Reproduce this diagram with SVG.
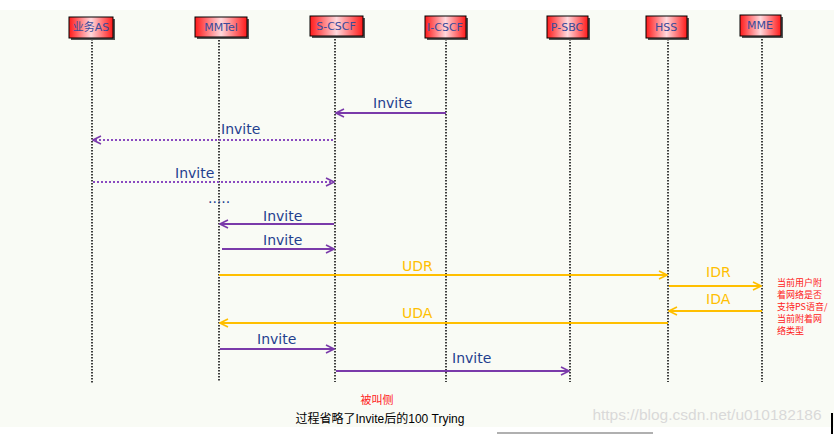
<svg xmlns="http://www.w3.org/2000/svg" width="834" height="434" viewBox="0 0 834 434">
<defs>
<linearGradient id="ng" x1="0" y1="0" x2="1" y2="0">
<stop offset="0" stop-color="#ff1a1a"/>
<stop offset="0.5" stop-color="#ffd8dc"/>
<stop offset="1" stop-color="#ff1a1a"/>
</linearGradient>
<marker id="ap" viewBox="0 0 10 10" refX="9" refY="5" markerWidth="10" markerHeight="10" markerUnits="userSpaceOnUse" orient="auto">
<path d="M1,1 L9,5 L1,9" fill="none" stroke="#7a3aaa" stroke-width="1.6"/>
</marker>
<marker id="ay" viewBox="0 0 10 10" refX="9" refY="5" markerWidth="10" markerHeight="10" markerUnits="userSpaceOnUse" orient="auto">
<path d="M1,1 L9,5 L1,9" fill="none" stroke="#ffbf00" stroke-width="1.6"/>
</marker>
</defs>
<style>
.box{fill:url(#ng);stroke:#000;stroke-width:1}
.sh{fill:#555}
.nt{font-family:"DejaVu Sans","Noto Sans CJK SC",sans-serif;font-size:11px;fill:#3a4a9a;text-anchor:middle}
.life{stroke:#000;stroke-width:1.5;stroke-dasharray:1.5,1.5}
.mp{stroke:#7a3aaa;stroke-width:2;fill:none;marker-end:url(#ap)}
.md{stroke:#8a4ac0;stroke-width:2;stroke-dasharray:2,2;fill:none;marker-end:url(#ap)}
.my{stroke:#ffbf00;stroke-width:2;fill:none;marker-end:url(#ay)}
.lb{font-family:"DejaVu Sans",sans-serif;font-size:14px;fill:#1f3f8f}
.ly{font-family:"DejaVu Sans",sans-serif;font-size:14px;fill:#ffbf00}
.note{font-family:"Noto Sans CJK SC",sans-serif;font-size:9px;fill:#ff2020}
</style>
<rect x="0" y="0" width="834" height="434" fill="#ffffff"/>
<rect x="0" y="10" width="834" height="417" fill="#f9fbf5"/>

<g id="lifelines">
<line class="life" x1="92" y1="39" x2="92" y2="384"/>
<line class="life" x1="219" y1="37" x2="219" y2="382"/>
<line class="life" x1="335" y1="36" x2="335" y2="382"/>
<line class="life" x1="446" y1="39" x2="446" y2="382"/>
<line class="life" x1="570" y1="39" x2="570" y2="382"/>
<line class="life" x1="668" y1="39" x2="668" y2="382"/>
<line class="life" x1="762" y1="36" x2="762" y2="382"/>
</g>

<g id="n-as"><rect class="sh" x="71" y="19" width="44" height="21"/><rect class="box" x="69" y="17" width="44" height="21"/><text class="nt" x="91" y="31">业务AS</text></g>
<g id="n-mmtel"><rect class="sh" x="197" y="19" width="52" height="20"/><rect class="box" x="195" y="17" width="52" height="20"/><text class="nt" x="221" y="31">MMTel</text></g>
<g id="n-scscf"><rect class="sh" x="312" y="18" width="53" height="20"/><rect class="box" x="310" y="16" width="53" height="20"/><text class="nt" x="336" y="30">S-CSCF</text></g>
<g id="n-icscf"><rect class="sh" x="427" y="18" width="41" height="22"/><rect class="box" x="425" y="16" width="41" height="22"/><text class="nt" x="445" y="31">I-CSCF</text></g>
<g id="n-psbc"><rect class="sh" x="549" y="18" width="41" height="22"/><rect class="box" x="547" y="16" width="41" height="22"/><text class="nt" x="567" y="31">P-SBC</text></g>
<g id="n-hss"><rect class="sh" x="648" y="18" width="41" height="22"/><rect class="box" x="646" y="16" width="41" height="22"/><text class="nt" x="666" y="31">HSS</text></g>
<g id="n-mme"><rect class="sh" x="742" y="17" width="41" height="21"/><rect class="box" x="740" y="15" width="41" height="21"/><text class="nt" x="760" y="29">MME</text></g>

<g id="connectors">
<line class="mp" x1="446" y1="113" x2="336" y2="113"/>
<line class="md" x1="333" y1="140" x2="93" y2="140"/>
<line class="md" x1="93" y1="182" x2="334" y2="182"/>
<line class="mp" x1="334" y1="224" x2="220" y2="224"/>
<line class="mp" x1="222" y1="249" x2="334" y2="249"/>
<line class="my" x1="219" y1="275" x2="667" y2="275"/>
<line class="my" x1="669" y1="286" x2="761" y2="286"/>
<line class="my" x1="762" y1="311" x2="669" y2="311"/>
<line class="my" x1="668" y1="323" x2="220" y2="323"/>
<line class="mp" x1="220" y1="349" x2="334" y2="349"/>
<line class="mp" x1="336" y1="371" x2="569" y2="371"/>
</g>

<g id="labels">
<text class="lb" x="373" y="108">Invite</text>
<text class="lb" x="221" y="134">Invite</text>
<text class="lb" x="175" y="178">Invite</text>
<text class="lb" x="208" y="203">.....</text>
<text class="lb" x="263" y="221">Invite</text>
<text class="lb" x="263" y="245">Invite</text>
<text class="ly" x="402" y="271">UDR</text>
<text class="ly" x="706" y="277">IDR</text>
<text class="ly" x="706" y="304">IDA</text>
<text class="ly" x="402" y="318">UDA</text>
<text class="lb" x="257" y="344">Invite</text>
<text class="lb" x="452" y="363">Invite</text>
</g>

<g id="note">
<text class="note" x="777" y="286">当前用户附</text>
<text class="note" x="777" y="298">着网络是否</text>
<text class="note" x="777" y="310">支持PS语音/</text>
<text class="note" x="777" y="322">当前附着网</text>
<text class="note" x="777" y="334">络类型</text>
</g>

<text x="377" y="404" text-anchor="middle" font-family="'Noto Sans CJK SC',sans-serif" font-size="11" fill="#ff2020">被叫侧</text>
<text x="380" y="423" text-anchor="middle" font-family="'Liberation Sans','Noto Sans CJK SC',sans-serif" font-size="12" fill="#000">过程省略了Invite后的100 Trying</text>
<text x="707" y="420" text-anchor="middle" font-family="'Liberation Sans',sans-serif" font-size="15.5" fill="#d9d9d9">https://blog.csdn.net/u010182186</text>
<rect x="497" y="432" width="156" height="2" fill="#b0b0b0"/>
<rect x="831" y="413" width="2" height="21" fill="#000"/>
</svg>
